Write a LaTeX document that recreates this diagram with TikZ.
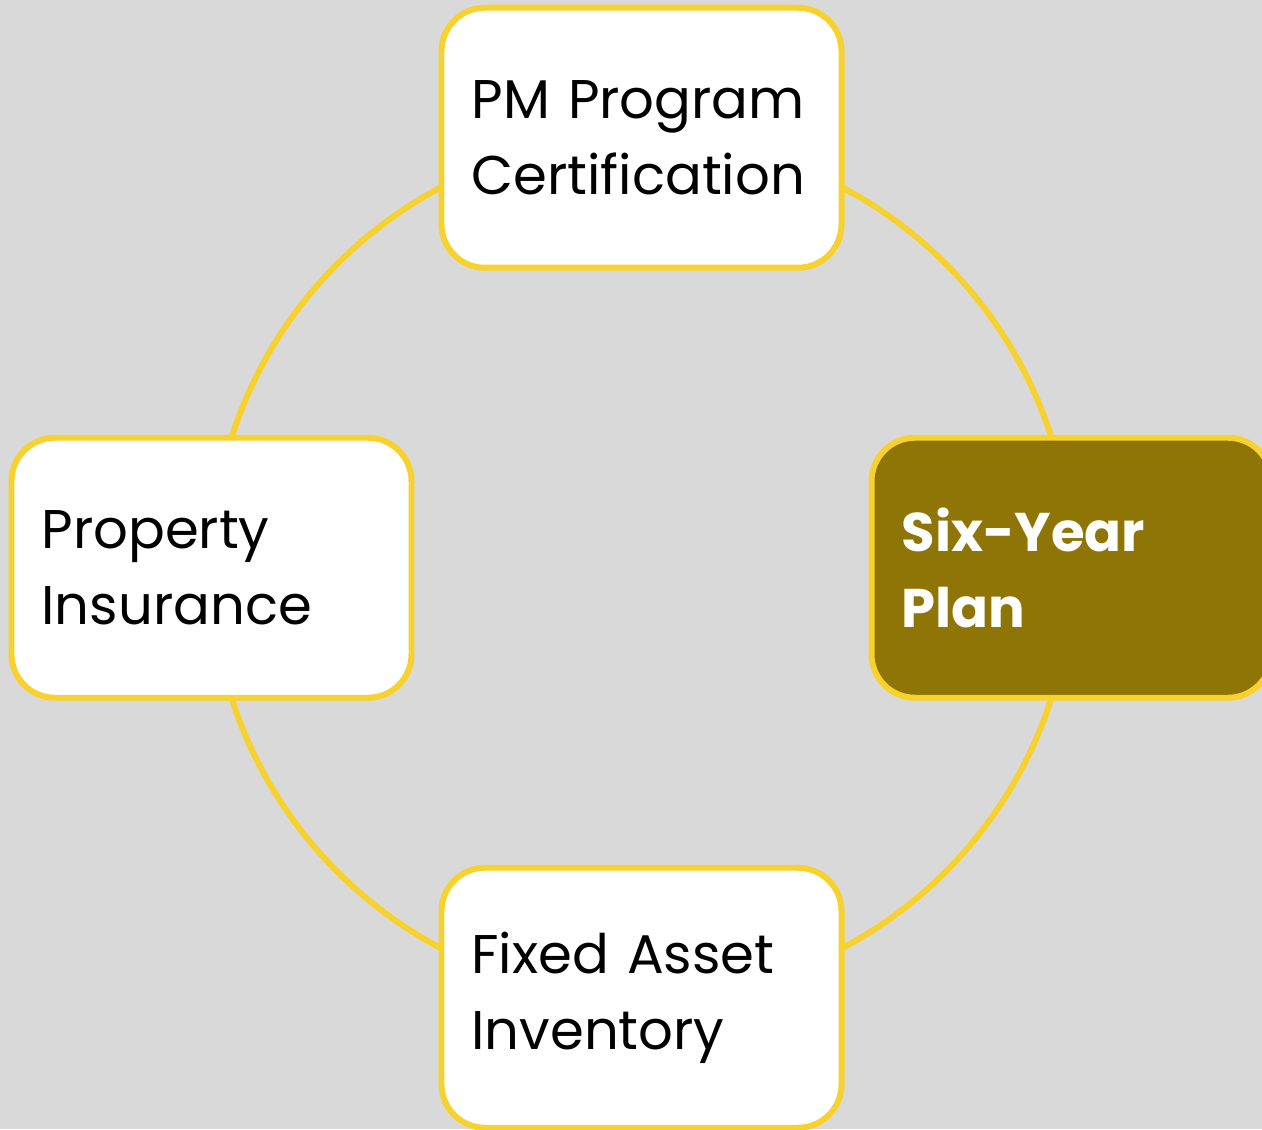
\documentclass[tikz,border=0pt]{standalone}
\usepackage{fontspec}
\setmainfont{Poppins}
\usetikzlibrary{positioning}

\definecolor{ringyellow}{HTML}{F7D22E}
\definecolor{planolive}{HTML}{8F7406}
\definecolor{backgray}{HTML}{D9D9D9}

\tikzset{
	stagebox/.style={draw=ringyellow, line width=3.4pt, rounded corners=0.87cm, fill=white,
		minimum width=8cm, minimum height=5.2cm, text width=6.8cm, inner xsep=0.6cm, inner ysep=0pt,
		align=left, font=\fontsize{31}{43}\selectfont},
	activebox/.style={stagebox, fill=planolive, text=white, font=\fontsize{31}{43}\selectfont\bfseries}
}

\begin{document}
\begin{tikzpicture}
	\def\w{25.24};
	\def\h{22.58};
	\def\r{8.6};

	\clip (0,0) rectangle (\w,\h);
	\fill[backgray] (0,0) rectangle (\w,\h);

	\coordinate (ctr) at (12.83,11.225);
	\draw[ringyellow, line width=3.4pt] (ctr) circle (\r);

	\node[stagebox] (pm) at ([shift={(90:\r)}]ctr) {PM Program\\Certification};
	\node[activebox] (plan) at ([shift={(0:\r)}]ctr) {Six-Year\\Plan};
	\node[stagebox] (asset) at ([shift={(270:\r)}]ctr) {Fixed Asset\\Inventory};
	\node[stagebox] (insur) at ([shift={(180:\r)}]ctr) {Property\\Insurance};
\end{tikzpicture}
\end{document}
